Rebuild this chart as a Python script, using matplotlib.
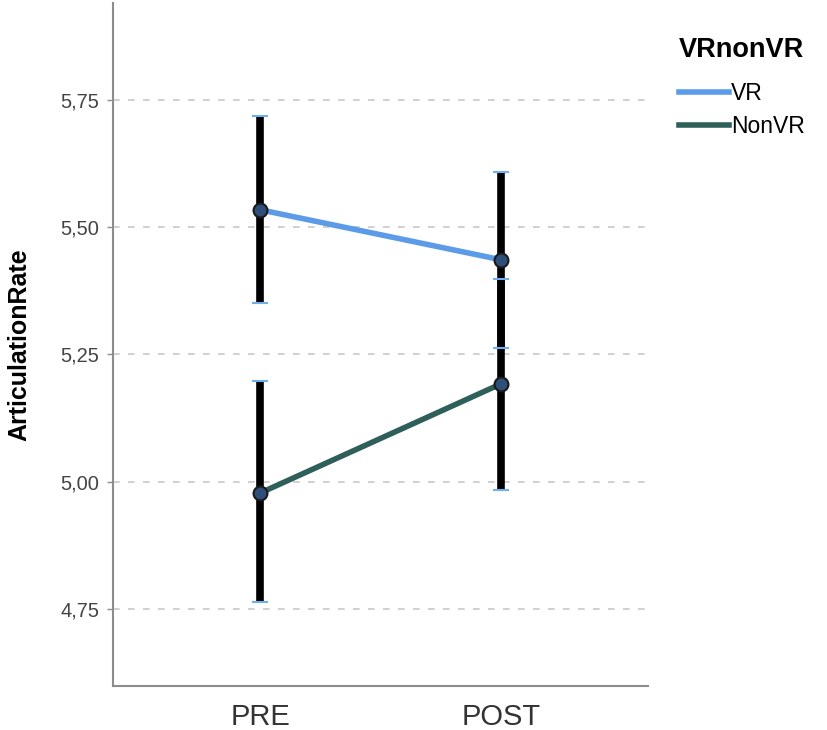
import numpy as np
import matplotlib.pyplot as plt
from matplotlib.lines import Line2D

plt.rcParams['font.family'] = ['Liberation Sans', 'DejaVu Sans']

times = ["PRE", "POST"]
groups = ["VR", "NonVR"]
vr_mean = [5.534, 5.436]
vr_lo = [5.351, 5.262]
vr_hi = [5.718, 5.608]
nonvr_mean = [4.978, 5.192]
nonvr_lo = [4.763, 4.983]
nonvr_hi = [5.197, 5.398]
yticks = [4.75, 5.00, 5.25, 5.50, 5.75]

colors = {"VR": "#5b9be8", "NonVR": "#2f5f5a"}

fig = plt.figure(figsize=(8.27, 7.30), dpi=100)
ax = fig.add_axes([113 / 827, 1 - 686 / 730, (648 - 113) / 827, 683 / 730])

x = np.arange(len(times))
series = [("VR", vr_mean, vr_lo, vr_hi), ("NonVR", nonvr_mean, nonvr_lo, nonvr_hi)]

for name, m, lo, hi in series:
    ax.plot(x, m, color=colors[name], lw=4, zorder=3, solid_capstyle='butt')

for name, m, lo, hi in series:
    # error bars: black thick line, small blue caps
    ax.vlines(x, lo, hi, color='black', lw=5.5, zorder=4)
    ax.plot(x, lo, ls='none', marker='_', ms=11, mew=1.5, color='#6fb0f0', zorder=5)
    ax.plot(x, hi, ls='none', marker='_', ms=11, mew=1.5, color='#6fb0f0', zorder=5)
    ax.plot(x, m, ls='none', marker='o', ms=10, mfc='#2d4f7a', mec='#1a1a1a',
            mew=1.5, zorder=6)

ax.set_xlim(-0.6125, 1.6125)
ax.set_ylim(4.599, 5.94)
ax.set_yticks(yticks)
ax.set_yticklabels([("%.2f" % v).replace(".", ",") for v in yticks])
ax.set_xticks(x)
ax.set_xticklabels(times)
ax.yaxis.grid(True, ls=(0, (4, 5)), color='#c8c8c8', lw=1.2)
ax.set_axisbelow(True)

for s in ["top", "right"]:
    ax.spines[s].set_visible(False)
for s in ["left", "bottom"]:
    ax.spines[s].set_color('#8c8c8c')
    ax.spines[s].set_linewidth(1.5)

ax.tick_params(axis='y', labelsize=14.5, labelcolor='#444444', color='#8c8c8c',
               length=4, width=1, pad=6)
ax.tick_params(axis='x', labelsize=21, labelcolor='#333333', length=0, pad=12)
ax.set_ylabel("ArticulationRate", fontsize=18, fontweight='bold')
ax.yaxis.set_label_coords(-82 / 535, 0.5)

handles = [Line2D([0], [0], color=colors[g], lw=4) for g in groups]
leg = fig.legend(handles, groups, loc='upper left', bbox_to_anchor=(658 / 827, 1 - 16 / 730),
                 frameon=False, fontsize=16.5, handlelength=2.2, handletextpad=0.1,
                 labelspacing=0.45, title="VRnonVR", alignment='left')
leg.get_title().set_fontsize(19.5)
leg.get_title().set_fontweight('bold')
leg._legend_box.sep = 14

fig.savefig("out.png", dpi=100)
